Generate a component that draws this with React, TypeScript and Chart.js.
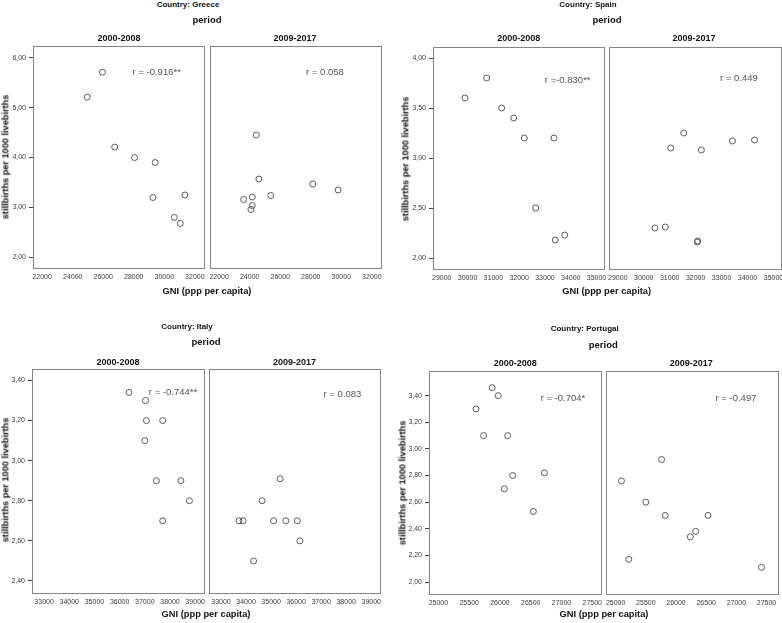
import React, { useEffect, useRef } from "react";
import { Chart, registerables } from "chart.js";

Chart.register(...registerables);

// ---------------- DATA ----------------
// Greece
const GREECE_GNI_2000_2008 = [25950, 24950, 26750, 28050, 29400, 29250, 31350, 30650, 31050];
const GREECE_SB_2000_2008 = [5.71, 5.21, 4.21, 4.0, 3.9, 3.2, 3.25, 2.8, 2.68];
const GREECE_GNI_2009_2017 = [24430, 24600, 23600, 24170, 24170, 24080, 25380, 28130, 29790];
const GREECE_SB_2009_2017 = [4.45, 3.57, 3.16, 3.21, 3.04, 2.96, 3.24, 3.47, 3.35];
const GREECE_X_TICKS = [22000, 24000, 26000, 28000, 30000, 32000];
const GREECE_Y_TICKS = [2, 3, 4, 5, 6];
const GREECE_R = ["r = -0.916**", "r = 0.058"];

// Spain
const SPAIN_GNI_2000_2008 = [29900, 30740, 31320, 31790, 32200, 33350, 32640, 33400, 33770];
const SPAIN_SB_2000_2008 = [3.6, 3.8, 3.5, 3.4, 3.2, 3.2, 2.5, 2.18, 2.23];
const SPAIN_GNI_2009_2017 = [30430, 30830, 31040, 31540, 32220, 32060, 32080, 33420, 34270];
const SPAIN_SB_2009_2017 = [2.3, 2.31, 3.1, 3.25, 3.08, 2.16, 2.17, 3.17, 3.18];
const SPAIN_X_TICKS = [29000, 30000, 31000, 32000, 33000, 34000, 35000];
const SPAIN_Y_TICKS = [2.0, 2.5, 3.0, 3.5, 4.0];
const SPAIN_R = ["r =-0.830**", "r = 0.449"];

// Italy
const ITALY_GNI_2000_2008 = [36370, 37030, 37060, 37710, 37000, 37460, 38430, 38770, 37710];
const ITALY_SB_2000_2008 = [3.34, 3.3, 3.2, 3.2, 3.1, 2.9, 2.9, 2.8, 2.7];
const ITALY_GNI_2009_2017 = [35360, 34640, 33720, 33880, 35100, 35590, 36050, 36150, 34300];
const ITALY_SB_2009_2017 = [2.91, 2.8, 2.7, 2.7, 2.7, 2.7, 2.7, 2.6, 2.5];
const ITALY_X_TICKS = [33000, 34000, 35000, 36000, 37000, 38000, 39000];
const ITALY_Y_TICKS = [2.4, 2.6, 2.8, 3.0, 3.2, 3.4];
const ITALY_R = ["r = -0.744**", "r = 0.083"];

// Portugal
const PORTUGAL_GNI_2000_2008 = [25874, 25972, 25613, 25734, 26126, 26207, 26722, 26070, 26543];
const PORTUGAL_SB_2000_2008 = [3.46, 3.4, 3.3, 3.1, 3.1, 2.8, 2.82, 2.7, 2.53];
const PORTUGAL_GNI_2009_2017 = [25761, 25096, 25500, 25821, 26531, 26326, 26237, 25217, 27417];
const PORTUGAL_SB_2009_2017 = [2.92, 2.76, 2.6, 2.5, 2.5, 2.38, 2.34, 2.17, 2.11];
const PORTUGAL_X_TICKS = [25000, 25500, 26000, 26500, 27000, 27500];
const PORTUGAL_Y_TICKS = [2.0, 2.2, 2.4, 2.6, 2.8, 3.0, 3.2, 3.4];
const PORTUGAL_R = ["r = -0.704*", "r = -0.497"];

const PERIODS = ["2000-2008", "2009-2017"];
const COUNTRIES = ["Greece", "Spain", "Italy", "Portugal"];
const Y_TITLE = "stillbirths per 1000 livebirths";
const X_TITLE = "GNI (ppp per capita)";

// ---------------- LAYOUT / STYLE ----------------
const FONT = "'Liberation Sans', Arial, Helvetica, sans-serif";
const YW = 40; // y-axis box width
const XH = 28; // x-axis box height
const PT = 8; // top pad
const PR = 14; // right pad

type SubSpec = {
  frame: [number, number, number, number];
  gni: number[];
  sb: number[];
  xRange: [number, number];
  yRange: [number, number];
  xTicks: number[];
  yTicks: number[];
  showY: boolean;
};

const fmtY = (v: number) => v.toFixed(2).replace(".", ",");

const framePlugin = {
  id: "frame",
  afterDraw(chart: any) {
    const { ctx, chartArea } = chart;
    ctx.save();
    ctx.strokeStyle = "#858585";
    ctx.lineWidth = 1;
    ctx.strokeRect(
      chartArea.left + 0.5,
      chartArea.top + 0.5,
      chartArea.right - chartArea.left,
      chartArea.bottom - chartArea.top
    );
    ctx.restore();
  },
};

function SubPlot({ spec }: { spec: SubSpec }) {
  const ref = useRef<HTMLCanvasElement | null>(null);
  const [L, T, R, B] = spec.frame;
  const w = R - L;
  const h = B - T;
  const cw = w + YW + PR;
  const ch = h + PT + XH;

  useEffect(() => {
    if (!ref.current) return;
    const points = spec.gni.map((x, i) => ({ x, y: spec.sb[i] }));
    const chart = new Chart(ref.current, {
      type: "scatter",
      data: {
        datasets: [
          {
            data: points,
            pointRadius: 3,
            pointBorderWidth: 1,
            pointBorderColor: "#5a5a5a",
            pointBackgroundColor: "rgba(255,255,255,0)",
            showLine: false,
          } as any,
        ],
      },
      options: {
        animation: false,
        responsive: false,
        maintainAspectRatio: false,
        devicePixelRatio: 1,
        events: [],
        layout: { padding: { left: 0, top: PT, right: PR, bottom: 0 } },
        plugins: {
          legend: { display: false },
          tooltip: { enabled: false },
          title: { display: false },
        },
        scales: {
          x: {
            type: "linear",
            position: "bottom",
            min: spec.xRange[0],
            max: spec.xRange[1],
            afterFit: (s: any) => {
              s.height = XH;
            },
            afterBuildTicks: (s: any) => {
              s.ticks = spec.xTicks.map((v) => ({ value: v }));
            },
            grid: { display: false, drawTicks: false },
            border: { display: false },
            ticks: {
              padding: 5,
              autoSkip: false,
              maxRotation: 0,
              minRotation: 0,
              color: "#3a3a3a",
              font: { family: FONT, size: 7 },
              callback: (v: any) => String(v),
            },
          } as any,
          y: {
            type: "linear",
            position: "left",
            min: spec.yRange[0],
            max: spec.yRange[1],
            afterFit: (s: any) => {
              s.width = YW;
            },
            afterBuildTicks: (s: any) => {
              s.ticks = spec.yTicks.map((v) => ({ value: v }));
            },
            grid: {
              display: spec.showY,
              drawOnChartArea: false,
              drawTicks: true,
              tickLength: 4,
              color: "#444",
            },
            border: { display: false },
            ticks: {
              display: spec.showY,
              padding: 3,
              autoSkip: false,
              color: "#3a3a3a",
              font: { family: FONT, size: 7 },
              callback: (v: any) => fmtY(Number(v)),
            },
          } as any,
        },
      },
      plugins: [framePlugin],
    });
    return () => chart.destroy();
  }, []);

  return (
    <canvas
      ref={ref}
      width={cw}
      height={ch}
      style={{
        position: "absolute",
        left: L - YW,
        top: T - PT,
        width: cw,
        height: ch,
        display: "block",
      }}
    />
  );
}

type PanelSpec = {
  country: string;
  subs: [SubSpec, SubSpec];
  r: string[];
  countryPos: [number, number];
  periodPos: [number, number];
  subTitlePos: [[number, number], [number, number]];
  yTitlePos: [number, number];
  xTitlePos: [number, number];
  rPos: [[number, number], [number, number]];
};

const PANELS: PanelSpec[] = [
  {
    country: COUNTRIES[0],
    r: GREECE_R,
    subs: [
      {
        frame: [33, 46, 204, 268],
        gni: GREECE_GNI_2000_2008,
        sb: GREECE_SB_2000_2008,
        xRange: [21400, 32600],
        yRange: [1.788, 6.234],
        xTicks: GREECE_X_TICKS,
        yTicks: GREECE_Y_TICKS,
        showY: true,
      },
      {
        frame: [210, 46, 381, 268],
        gni: GREECE_GNI_2009_2017,
        sb: GREECE_SB_2009_2017,
        xRange: [21400, 32600],
        yRange: [1.788, 6.234],
        xTicks: GREECE_X_TICKS,
        yTicks: GREECE_Y_TICKS,
        showY: false,
      },
    ],
    countryPos: [188, 5],
    periodPos: [207, 19.5],
    subTitlePos: [
      [119, 38.3],
      [295, 38.3],
    ],
    yTitlePos: [6, 157],
    xTitlePos: [207, 292],
    rPos: [
      [156.7, 72.3],
      [325, 72.3],
    ],
  },
  {
    country: COUNTRIES[1],
    r: SPAIN_R,
    subs: [
      {
        frame: [433, 47, 604, 269],
        gni: SPAIN_GNI_2000_2008,
        sb: SPAIN_SB_2000_2008,
        xRange: [28660, 35290],
        yRange: [1.89, 4.11],
        xTicks: SPAIN_X_TICKS,
        yTicks: SPAIN_Y_TICKS,
        showY: true,
      },
      {
        frame: [609, 47, 781, 269],
        gni: SPAIN_GNI_2009_2017,
        sb: SPAIN_SB_2009_2017,
        xRange: [28660, 35290],
        yRange: [1.89, 4.11],
        xTicks: SPAIN_X_TICKS,
        yTicks: SPAIN_Y_TICKS,
        showY: false,
      },
    ],
    countryPos: [588, 5],
    periodPos: [607, 20],
    subTitlePos: [
      [518.7, 38],
      [694, 38],
    ],
    yTitlePos: [406, 159],
    xTitlePos: [606.7, 292],
    rPos: [
      [567.7, 80],
      [739, 78.3],
    ],
  },
  {
    country: COUNTRIES[2],
    r: ITALY_R,
    subs: [
      {
        frame: [32, 369, 204, 593],
        gni: ITALY_GNI_2000_2008,
        sb: ITALY_SB_2000_2008,
        xRange: [32520, 39350],
        yRange: [2.34, 3.457],
        xTicks: ITALY_X_TICKS,
        yTicks: ITALY_Y_TICKS,
        showY: true,
      },
      {
        frame: [209, 369, 380, 593],
        gni: ITALY_GNI_2009_2017,
        sb: ITALY_SB_2009_2017,
        xRange: [32520, 39350],
        yRange: [2.34, 3.457],
        xTicks: ITALY_X_TICKS,
        yTicks: ITALY_Y_TICKS,
        showY: false,
      },
    ],
    countryPos: [187, 327.3],
    periodPos: [206, 342.3],
    subTitlePos: [
      [118, 361.7],
      [294.5, 361.7],
    ],
    yTitlePos: [5.5, 480],
    xTitlePos: [206, 615],
    rPos: [
      [173, 392.3],
      [342.5, 394],
    ],
  },
  {
    country: COUNTRIES[3],
    r: PORTUGAL_R,
    subs: [
      {
        frame: [429, 371, 601, 594],
        gni: PORTUGAL_GNI_2000_2008,
        sb: PORTUGAL_SB_2000_2008,
        xRange: [24847, 27642],
        yRange: [1.91, 3.585],
        xTicks: PORTUGAL_X_TICKS,
        yTicks: PORTUGAL_Y_TICKS,
        showY: true,
      },
      {
        frame: [606, 371, 778, 594],
        gni: PORTUGAL_GNI_2009_2017,
        sb: PORTUGAL_SB_2009_2017,
        xRange: [24840, 27690],
        yRange: [1.91, 3.585],
        xTicks: PORTUGAL_X_TICKS,
        yTicks: PORTUGAL_Y_TICKS,
        showY: false,
      },
    ],
    countryPos: [584.7, 329],
    periodPos: [603.3, 345],
    subTitlePos: [
      [515.3, 363.3],
      [691.3, 363.3],
    ],
    yTitlePos: [402.7, 483],
    xTitlePos: [604, 615],
    rPos: [
      [563, 398.3],
      [736, 398.3],
    ],
  },
];

function Label({
  x,
  y,
  text,
  size,
  bold,
  color,
  rotate,
}: {
  x: number;
  y: number;
  text: string;
  size: number;
  bold?: boolean;
  color?: string;
  rotate?: boolean;
}) {
  return (
    <div
      style={{
        position: "absolute",
        left: x,
        top: y,
        transform: `translate(-50%, -50%)${rotate ? " rotate(-90deg)" : ""}`,
        whiteSpace: "nowrap",
        fontFamily: FONT,
        fontSize: size,
        fontWeight: bold ? 700 : 400,
        color: color || "#111",
        lineHeight: 1,
      }}
    >
      {text}
    </div>
  );
}

export default function App() {
  return (
    <div
      style={{
        position: "absolute",
        left: 0,
        top: 0,
        width: 782,
        height: 623,
        overflow: "hidden",
        background: "#fff",
      }}
    >
      {PANELS.map((p, pi) => (
        <React.Fragment key={pi}>
          <SubPlot spec={p.subs[0]} />
          <SubPlot spec={p.subs[1]} />
          <Label x={p.countryPos[0]} y={p.countryPos[1]} text={`Country: ${p.country}`} size={8} bold />
          <Label x={p.periodPos[0]} y={p.periodPos[1]} text="period" size={9.5} bold />
          <Label x={p.subTitlePos[0][0]} y={p.subTitlePos[0][1]} text={PERIODS[0]} size={9} bold />
          <Label x={p.subTitlePos[1][0]} y={p.subTitlePos[1][1]} text={PERIODS[1]} size={9} bold />
          <Label x={p.yTitlePos[0]} y={p.yTitlePos[1]} text={Y_TITLE} size={9.2} bold rotate />
          <Label x={p.xTitlePos[0]} y={p.xTitlePos[1]} text={X_TITLE} size={9.3} bold />
          <Label x={p.rPos[0][0]} y={p.rPos[0][1]} text={p.r[0]} size={9.5} color="#555" />
          <Label x={p.rPos[1][0]} y={p.rPos[1][1]} text={p.r[1]} size={9.5} color="#555" />
        </React.Fragment>
      ))}
    </div>
  );
}
